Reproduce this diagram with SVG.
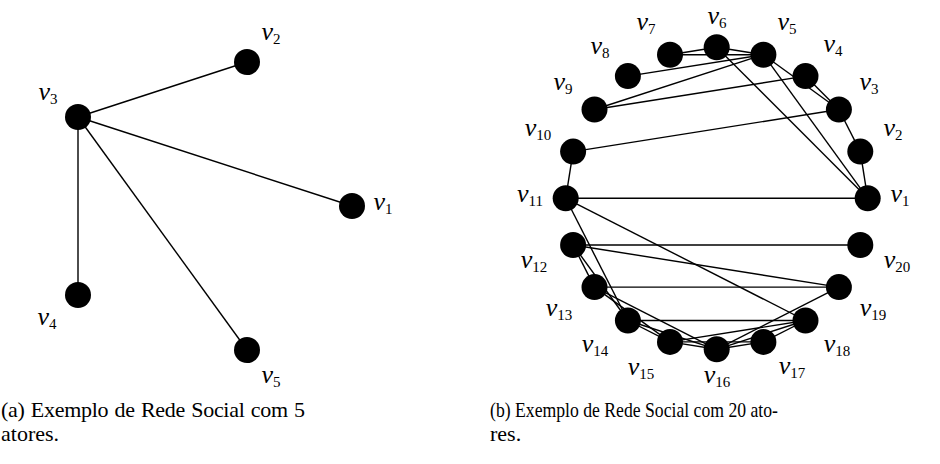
<svg xmlns="http://www.w3.org/2000/svg" width="940" height="464" viewBox="0 0 940 464">
<style>
.edge{stroke:#000;stroke-width:1.4;fill:none}
.dot{fill:#000}
.lbl{font-family:"Liberation Serif","Times New Roman","DejaVu Serif",serif;font-size:26px;font-style:italic;text-anchor:middle;fill:#000}
.sub{font-size:15px;font-style:normal}
.cap{font-family:"Liberation Serif","Times New Roman","DejaVu Serif",serif;font-size:22px;fill:#000}
</style>
<rect width="940" height="464" fill="#fff"/>
<g id="connectors-a">
<line class="edge" x1="78" y1="117" x2="247" y2="62"/>
<line class="edge" x1="78" y1="117" x2="352" y2="206"/>
<line class="edge" x1="78" y1="117" x2="78" y2="295"/>
<line class="edge" x1="78" y1="117" x2="247" y2="350"/>
</g>
<g id="a-v1"><circle class="dot" cx="352" cy="206" r="13"/><text class="lbl" x="383" y="210">v<tspan class="sub" dy="4">1</tspan></text></g>
<g id="a-v2"><circle class="dot" cx="247" cy="62" r="13"/><text class="lbl" x="271" y="40">v<tspan class="sub" dy="4">2</tspan></text></g>
<g id="a-v3"><circle class="dot" cx="78" cy="117" r="13"/><text class="lbl" x="48" y="100">v<tspan class="sub" dy="4">3</tspan></text></g>
<g id="a-v4"><circle class="dot" cx="78" cy="295" r="13"/><text class="lbl" x="47" y="325">v<tspan class="sub" dy="4">4</tspan></text></g>
<g id="a-v5"><circle class="dot" cx="247" cy="350" r="13"/><text class="lbl" x="271" y="383">v<tspan class="sub" dy="4">5</tspan></text></g>

<g id="connectors-b">
<line class="edge" x1="867.7" y1="198.3" x2="860.3" y2="151.6"/>
<line class="edge" x1="860.3" y1="151.6" x2="838.9" y2="109.5"/>
<line class="edge" x1="838.9" y1="109.5" x2="805.5" y2="76.1"/>
<line class="edge" x1="838.9" y1="109.5" x2="763.4" y2="54.7"/>
<line class="edge" x1="867.7" y1="198.3" x2="763.4" y2="54.7"/>
<line class="edge" x1="867.7" y1="198.3" x2="716.7" y2="47.3"/>
<line class="edge" x1="763.4" y1="54.7" x2="716.7" y2="47.3"/>
<line class="edge" x1="716.7" y1="47.3" x2="670.0" y2="54.7"/>
<line class="edge" x1="763.4" y1="54.7" x2="670.0" y2="54.7"/>
<line class="edge" x1="763.4" y1="54.7" x2="627.9" y2="76.1"/>
<line class="edge" x1="763.4" y1="54.7" x2="594.5" y2="109.5"/>
<line class="edge" x1="805.5" y1="76.1" x2="594.5" y2="109.5"/>
<line class="edge" x1="838.9" y1="109.5" x2="573.1" y2="151.6"/>
<line class="edge" x1="573.1" y1="151.6" x2="565.7" y2="198.3"/>
<line class="edge" x1="867.7" y1="198.3" x2="565.7" y2="198.3"/>
<line class="edge" x1="565.7" y1="198.3" x2="627.9" y2="320.5"/>
<line class="edge" x1="565.7" y1="198.3" x2="805.5" y2="320.5"/>
<line class="edge" x1="573.1" y1="245" x2="860.3" y2="245"/>
<line class="edge" x1="573.1" y1="245" x2="838.9" y2="287.1"/>
<line class="edge" x1="573.1" y1="245" x2="594.5" y2="287.1"/>
<line class="edge" x1="573.1" y1="245" x2="627.9" y2="320.5"/>
<line class="edge" x1="594.5" y1="287.1" x2="670" y2="341.9"/>
<line class="edge" x1="627.9" y1="320.5" x2="670" y2="341.9"/>
<line class="edge" x1="627.9" y1="320.5" x2="716.7" y2="349.3"/>
<line class="edge" x1="594.5" y1="287.1" x2="716.7" y2="349.3"/>
<line class="edge" x1="594.5" y1="287.1" x2="838.9" y2="287.1"/>
<line class="edge" x1="627.9" y1="320.5" x2="805.5" y2="320.5"/>
<line class="edge" x1="670" y1="341.9" x2="716.7" y2="349.3"/>
<line class="edge" x1="670" y1="341.9" x2="763.4" y2="341.9"/>
<line class="edge" x1="716.7" y1="349.3" x2="763.4" y2="341.9"/>
<line class="edge" x1="670" y1="341.9" x2="805.5" y2="320.5"/>
<line class="edge" x1="716.7" y1="349.3" x2="805.5" y2="320.5"/>
<line class="edge" x1="763.4" y1="341.9" x2="805.5" y2="320.5"/>
<line class="edge" x1="716.7" y1="349.3" x2="838.9" y2="287.1"/>
</g>
<g id="b-v1"><circle class="dot" cx="867.7" cy="198.3" r="13"/><text class="lbl" x="900" y="202">v<tspan class="sub" dy="4">1</tspan></text></g>
<g id="b-v2"><circle class="dot" cx="860.3" cy="151.6" r="13"/><text class="lbl" x="893" y="136">v<tspan class="sub" dy="4">2</tspan></text></g>
<g id="b-v3"><circle class="dot" cx="838.9" cy="109.5" r="13"/><text class="lbl" x="869" y="90">v<tspan class="sub" dy="4">3</tspan></text></g>
<g id="b-v4"><circle class="dot" cx="805.5" cy="76.1" r="13"/><text class="lbl" x="833" y="52">v<tspan class="sub" dy="4">4</tspan></text></g>
<g id="b-v5"><circle class="dot" cx="763.4" cy="54.7" r="13"/><text class="lbl" x="787" y="30">v<tspan class="sub" dy="4">5</tspan></text></g>
<g id="b-v6"><circle class="dot" cx="716.7" cy="47.3" r="13"/><text class="lbl" x="717" y="24">v<tspan class="sub" dy="4">6</tspan></text></g>
<g id="b-v7"><circle class="dot" cx="670" cy="54.7" r="13"/><text class="lbl" x="646" y="30">v<tspan class="sub" dy="4">7</tspan></text></g>
<g id="b-v8"><circle class="dot" cx="627.9" cy="76.1" r="13"/><text class="lbl" x="600" y="54">v<tspan class="sub" dy="4">8</tspan></text></g>
<g id="b-v9"><circle class="dot" cx="594.5" cy="109.5" r="13"/><text class="lbl" x="563" y="90">v<tspan class="sub" dy="4">9</tspan></text></g>
<g id="b-v10"><circle class="dot" cx="573.1" cy="151.6" r="13"/><text class="lbl" x="538" y="136">v<tspan class="sub" dy="4">10</tspan></text></g>
<g id="b-v11"><circle class="dot" cx="565.7" cy="198.3" r="13"/><text class="lbl" x="530" y="202">v<tspan class="sub" dy="4">11</tspan></text></g>
<g id="b-v12"><circle class="dot" cx="573.1" cy="245" r="13"/><text class="lbl" x="534" y="268">v<tspan class="sub" dy="4">12</tspan></text></g>
<g id="b-v13"><circle class="dot" cx="594.5" cy="287.1" r="13"/><text class="lbl" x="559" y="316">v<tspan class="sub" dy="4">13</tspan></text></g>
<g id="b-v14"><circle class="dot" cx="627.9" cy="320.5" r="13"/><text class="lbl" x="595" y="352">v<tspan class="sub" dy="4">14</tspan></text></g>
<g id="b-v15"><circle class="dot" cx="670" cy="341.9" r="13"/><text class="lbl" x="641" y="375">v<tspan class="sub" dy="4">15</tspan></text></g>
<g id="b-v16"><circle class="dot" cx="716.7" cy="349.3" r="13"/><text class="lbl" x="717" y="383">v<tspan class="sub" dy="4">16</tspan></text></g>
<g id="b-v17"><circle class="dot" cx="763.4" cy="341.9" r="13"/><text class="lbl" x="792" y="374">v<tspan class="sub" dy="4">17</tspan></text></g>
<g id="b-v18"><circle class="dot" cx="805.5" cy="320.5" r="13"/><text class="lbl" x="837" y="352">v<tspan class="sub" dy="4">18</tspan></text></g>
<g id="b-v19"><circle class="dot" cx="838.9" cy="287.1" r="13"/><text class="lbl" x="873" y="316">v<tspan class="sub" dy="4">19</tspan></text></g>
<g id="b-v20"><circle class="dot" cx="860.3" cy="245" r="13"/><text class="lbl" x="897" y="268">v<tspan class="sub" dy="4">20</tspan></text></g>

<g id="captions">
<text class="cap" x="1" y="417" textLength="304" lengthAdjust="spacing" word-spacing="1">(a) Exemplo de Rede Social com 5</text>
<text class="cap" x="1" y="441">atores.</text>
<text class="cap" x="490" y="417" textLength="288" lengthAdjust="spacingAndGlyphs">(b) Exemplo de Rede Social com 20 ato-</text>
<text class="cap" x="490" y="441">res.</text>
</g>
</svg>
